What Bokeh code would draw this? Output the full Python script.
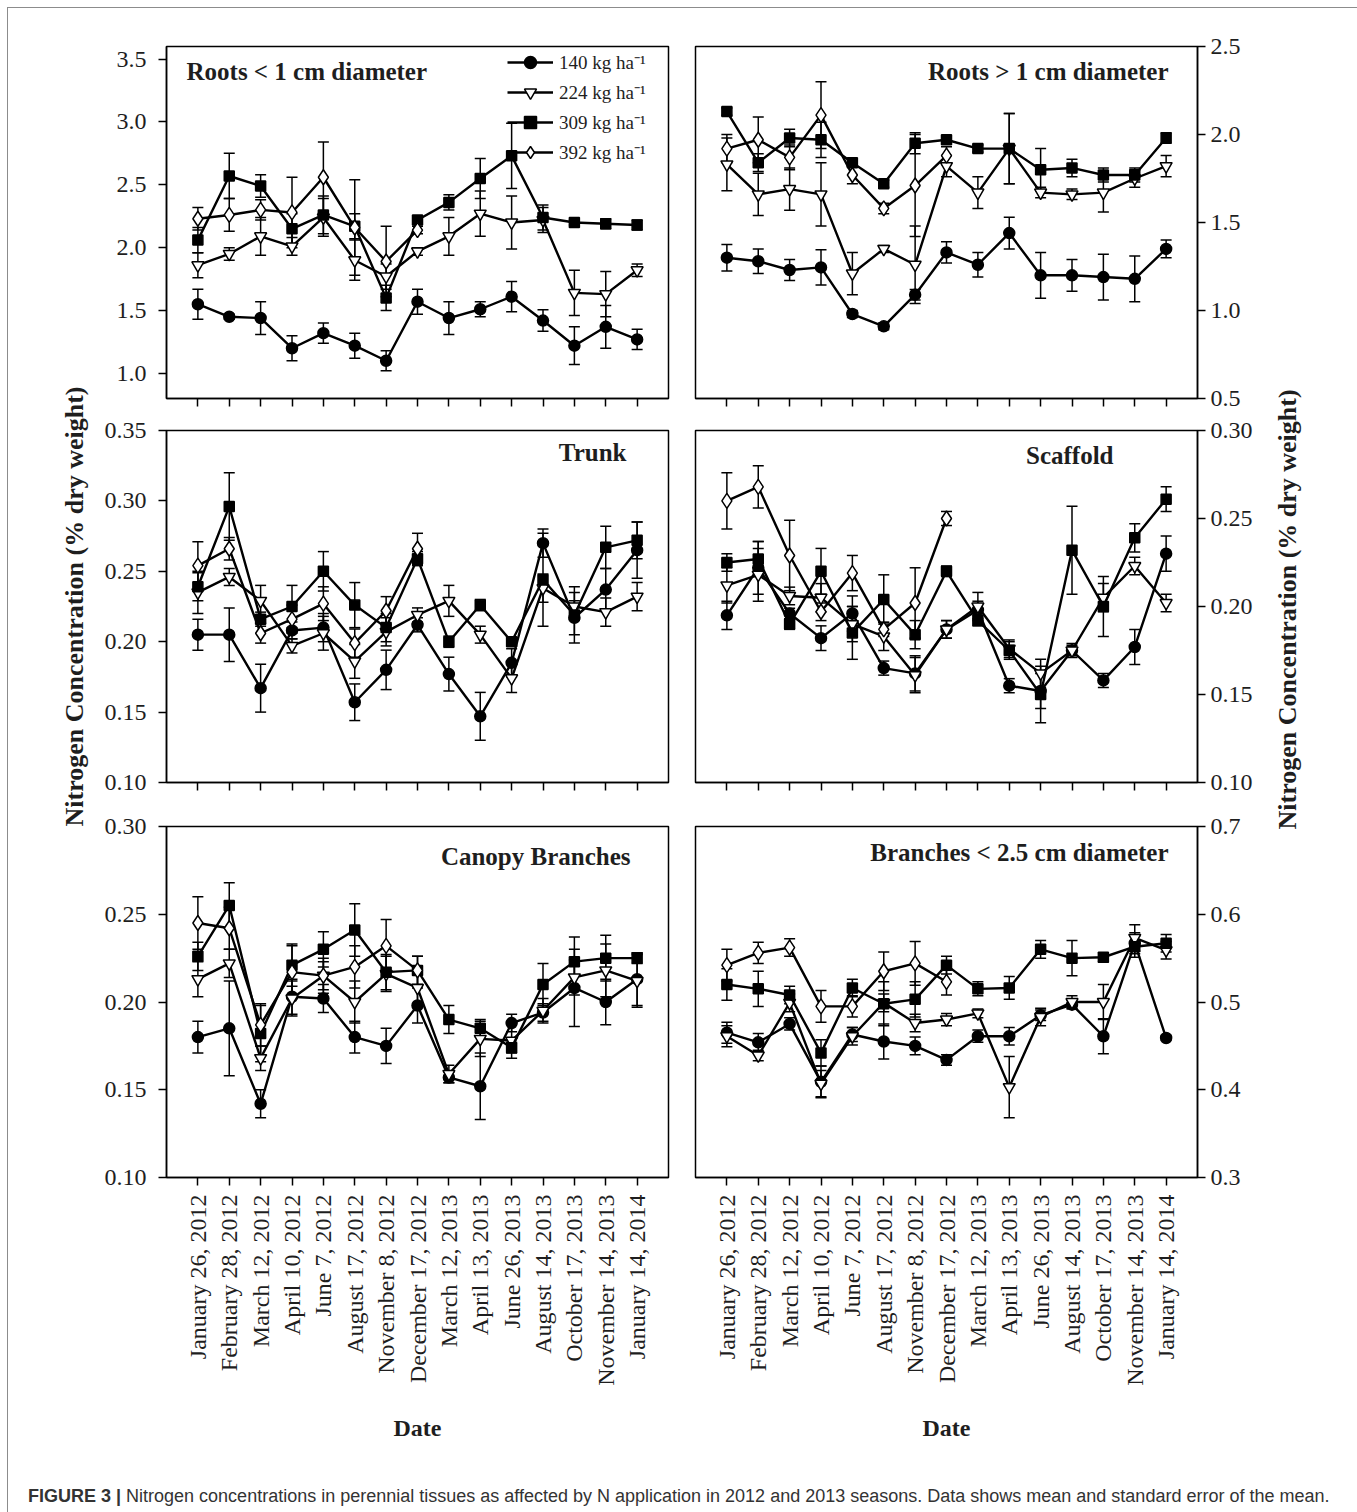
import math
from bokeh.plotting import figure
from bokeh.models import (Range1d, FixedTicker, PrintfTickFormatter, Whisker, TeeHead,
                          ColumnDataSource, Legend, LegendItem, Label, Div)
from bokeh.layouts import row, column
from bokeh.embed import file_html
from bokeh.resources import INLINE

# ---------------- data ----------------
DATES = ["January 26, 2012", "February 28, 2012", "March 12, 2012", "April 10, 2012",
         "June 7, 2012", "August 17, 2012", "November 8, 2012", "December 17, 2012",
         "March 12, 2013", "April 13, 2013", "June 26, 2013", "August 14, 2013",
         "October 17, 2013", "November 14, 2013", "January 14, 2014"]
RATES = ["140", "224", "309", "392"]

# Roots < 1 cm diameter
r1_140 = [1.55, 1.45, 1.44, 1.20, 1.32, 1.22, 1.10, 1.57, 1.44, 1.51, 1.61, 1.42, 1.22, 1.37, 1.27]
r1_140_se = [0.12, 0.02, 0.13, 0.10, 0.08, 0.10, 0.08, 0.10, 0.13, 0.06, 0.12, 0.085, 0.15, 0.17, 0.08]
r1_224 = [1.86, 1.95, 2.09, 2.01, 2.24, 1.90, 1.77, 1.97, 2.09, 2.27, 2.20, 2.22, 1.64, 1.63, 1.82]
r1_224_se = [0.10, 0.05, 0.15, 0.07, 0.15, 0.16, 0.10, 0.03, 0.15, 0.18, 0.21, 0.10, 0.18, 0.18, 0.05]
r1_309 = [2.06, 2.57, 2.49, 2.15, 2.26, 2.17, 1.60, 2.22, 2.36, 2.55, 2.73, 2.24, 2.20, 2.19, 2.18]
r1_309_se = [0.10, 0.18, 0.09, 0.12, 0.15, 0.10, 0.10, 0.03, 0.06, 0.16, 0.26, 0.10, 0.02, 0.04, 0.04]
r1_392 = [2.23, 2.26, 2.30, 2.28, 2.56, 2.16, 1.89, 2.14]
r1_392_se = [0.09, 0.13, 0.08, 0.28, 0.28, 0.38, 0.28, 0.03]

# Roots > 1 cm diameter
r2_140 = [1.30, 1.28, 1.23, 1.245, 0.98, 0.91, 1.09, 1.33, 1.26, 1.44, 1.20, 1.20, 1.19, 1.18, 1.35]
r2_140_se = [0.075, 0.07, 0.06, 0.10, 0.02, 0.02, 0.03, 0.06, 0.07, 0.09, 0.13, 0.09, 0.13, 0.13, 0.05]
r2_224 = [1.83, 1.66, 1.69, 1.66, 1.21, 1.35, 1.26, 1.82, 1.67, 1.92, 1.67, 1.66, 1.67, 1.75, 1.82]
r2_224_se = [0.15, 0.12, 0.12, 0.18, 0.12, 0.02, 0.22, 0.06, 0.09, 0.20, 0.03, 0.03, 0.11, 0.05, 0.06]
r2_309 = [2.13, 1.84, 1.98, 1.97, 1.84, 1.72, 1.95, 1.97, 1.92, 1.92, 1.80, 1.81, 1.77, 1.77, 1.98]
r2_309_se = [0.02, 0.05, 0.05, 0.10, 0.02, 0.02, 0.06, 0.02, 0.02, 0.20, 0.12, 0.05, 0.04, 0.04, 0.03]
r2_392 = [1.92, 1.97, 1.87, 2.11, 1.77, 1.58, 1.71, 1.88]
r2_392_se = [0.08, 0.13, 0.07, 0.19, 0.05, 0.03, 0.29, 0.05]

# Trunk
tr_140 = [0.205, 0.205, 0.167, 0.208, 0.210, 0.157, 0.180, 0.212, 0.177, 0.147, 0.185, 0.270, 0.217, 0.237, 0.265]
tr_140_se = [0.011, 0.019, 0.017, 0.006, 0.010, 0.013, 0.014, 0.005, 0.012, 0.017, 0.010, 0.010, 0.012, 0.015, 0.020]
tr_224 = [0.235, 0.246, 0.229, 0.197, 0.206, 0.186, 0.207, 0.219, 0.229, 0.205, 0.174, 0.238, 0.225, 0.221, 0.232]
tr_224_se = [0.015, 0.006, 0.011, 0.005, 0.012, 0.012, 0.010, 0.005, 0.011, 0.006, 0.010, 0.010, 0.010, 0.010, 0.010]
tr_309 = [0.239, 0.296, 0.216, 0.225, 0.250, 0.226, 0.210, 0.259, 0.200, 0.226, 0.200, 0.244, 0.219, 0.267, 0.272]
tr_309_se = [0.010, 0.024, 0.005, 0.015, 0.014, 0.016, 0.010, 0.005, 0.004, 0.004, 0.003, 0.033, 0.020, 0.015, 0.013]
tr_392 = [0.254, 0.266, 0.206, 0.216, 0.227, 0.199, 0.222, 0.266]
tr_392_se = [0.017, 0.008, 0.007, 0.010, 0.012, 0.010, 0.010, 0.011]

# Scaffold
sc_140 = [0.195, 0.222, 0.196, 0.182, 0.196, 0.165, 0.162, 0.187, 0.198, 0.155, 0.152, 0.175, 0.158, 0.177, 0.230]
sc_140_se = [0.008, 0.015, 0.003, 0.007, 0.010, 0.004, 0.010, 0.005, 0.005, 0.004, 0.010, 0.004, 0.004, 0.010, 0.010]
sc_224 = [0.212, 0.218, 0.206, 0.205, 0.190, 0.183, 0.161, 0.187, 0.200, 0.176, 0.162, 0.175, 0.205, 0.223, 0.202]
sc_224_se = [0.010, 0.015, 0.005, 0.008, 0.010, 0.008, 0.010, 0.005, 0.008, 0.005, 0.008, 0.003, 0.008, 0.005, 0.005]
sc_309 = [0.225, 0.227, 0.190, 0.220, 0.185, 0.204, 0.184, 0.220, 0.192, 0.175, 0.150, 0.232, 0.200, 0.239, 0.261]
sc_309_se = [0.005, 0.010, 0.003, 0.013, 0.015, 0.014, 0.008, 0.003, 0.003, 0.005, 0.016, 0.025, 0.017, 0.008, 0.007]
sc_392 = [0.260, 0.268, 0.229, 0.197, 0.219, 0.187, 0.202, 0.250]
sc_392_se = [0.016, 0.012, 0.020, 0.005, 0.010, 0.004, 0.020, 0.004]

# Canopy Branches
cb_140 = [0.180, 0.185, 0.142, 0.203, 0.202, 0.180, 0.175, 0.198, 0.157, 0.152, 0.188, 0.194, 0.208, 0.200, 0.213]
cb_140_se = [0.009, 0.027, 0.008, 0.010, 0.008, 0.009, 0.010, 0.010, 0.003, 0.019, 0.005, 0.005, 0.022, 0.013, 0.015]
cb_224 = [0.213, 0.222, 0.168, 0.202, 0.215, 0.200, 0.216, 0.208, 0.159, 0.179, 0.178, 0.195, 0.214, 0.218, 0.212]
cb_224_se = [0.010, 0.008, 0.007, 0.010, 0.008, 0.012, 0.010, 0.010, 0.005, 0.010, 0.010, 0.007, 0.010, 0.015, 0.015]
cb_309 = [0.226, 0.255, 0.182, 0.221, 0.230, 0.241, 0.217, 0.218, 0.190, 0.185, 0.174, 0.210, 0.223, 0.225, 0.225]
cb_309_se = [0.008, 0.013, 0.016, 0.012, 0.010, 0.015, 0.010, 0.008, 0.008, 0.005, 0.003, 0.012, 0.014, 0.013, 0.003]
cb_392 = [0.245, 0.242, 0.187, 0.217, 0.215, 0.220, 0.232, 0.218]
cb_392_se = [0.015, 0.012, 0.012, 0.015, 0.010, 0.012, 0.015, 0.008]

# Branches < 2.5 cm diameter
br_140 = [0.465, 0.454, 0.475, 0.409, 0.463, 0.455, 0.450, 0.434, 0.461, 0.461, 0.485, 0.497, 0.461, 0.567, 0.459]
br_140_se = [0.012, 0.010, 0.007, 0.018, 0.008, 0.020, 0.010, 0.006, 0.007, 0.010, 0.006, 0.005, 0.020, 0.012, 0.003]
br_224 = [0.461, 0.439, 0.499, 0.407, 0.461, 0.499, 0.476, 0.480, 0.487, 0.403, 0.483, 0.500, 0.500, 0.573, 0.559]
br_224_se = [0.012, 0.006, 0.010, 0.015, 0.010, 0.010, 0.010, 0.007, 0.005, 0.035, 0.010, 0.007, 0.020, 0.015, 0.010]
br_309 = [0.520, 0.515, 0.508, 0.442, 0.516, 0.498, 0.503, 0.542, 0.515, 0.516, 0.560, 0.550, 0.551, 0.563, 0.567]
br_309_se = [0.018, 0.020, 0.010, 0.015, 0.010, 0.025, 0.020, 0.010, 0.008, 0.013, 0.010, 0.020, 0.005, 0.012, 0.010]
br_392 = [0.542, 0.556, 0.562, 0.495, 0.495, 0.535, 0.544, 0.523]
br_392_se = [0.018, 0.012, 0.010, 0.018, 0.012, 0.022, 0.025, 0.015]

# y-axis ticks per panel
r1_ticks = [1.0, 1.5, 2.0, 2.5, 3.0, 3.5]
r2_ticks = [0.5, 1.0, 1.5, 2.0, 2.5]
tr_ticks = [0.10, 0.15, 0.20, 0.25, 0.30, 0.35]
sc_ticks = [0.10, 0.15, 0.20, 0.25, 0.30]
cb_ticks = [0.10, 0.15, 0.20, 0.25, 0.30]
br_ticks = [0.3, 0.4, 0.5, 0.6, 0.7]

# ---------------- styling ----------------
SERIF = "Liberation Serif"
TXT = "#1e1e1e"
FW = 502
STYLE = {
    "140": dict(marker="circle", fill="black", size=11),
    "224": dict(marker="inverted_triangle", fill="white", size=12),
    "309": dict(marker="square", fill="black", size=10),
    "392": dict(marker="diamond", fill="white", size=15),
}
XS = list(range(1, len(DATES) + 1))


def draw_series(p, ys, ses, key):
    st = STYLE[key]
    xs = XS[:len(ys)]
    src = ColumnDataSource(dict(x=xs, y=ys,
                                lo=[a - b for a, b in zip(ys, ses)],
                                hi=[a + b for a, b in zip(ys, ses)]))
    w = Whisker(source=src, base="x", upper="hi", lower="lo", line_color="black", line_width=1.5,
                upper_head=TeeHead(size=11, line_width=1.5, line_color="black"),
                lower_head=TeeHead(size=11, line_width=1.5, line_color="black"))
    p.add_layout(w)
    lr = p.line("x", "y", source=src, line_color="black", line_width=2.4)
    sr = p.scatter("x", "y", source=src, marker=st["marker"], size=st["size"],
                   fill_color=st["fill"], line_color="black", line_width=1.5)
    return lr, sr


def make_panel(ylo, yhi, ticks, fmt, side, fh, borders, bottom_labels, title, talign, tdx, tdy, series):
    bl, br, bt, bb = borders
    p = figure(frame_width=FW, frame_height=fh, x_range=Range1d(0, len(DATES) + 1),
               y_range=Range1d(ylo, yhi), y_axis_location=side,
               min_border_left=bl, min_border_right=br, min_border_top=bt, min_border_bottom=bb,
               output_backend="svg", toolbar_location=None)
    p.grid.visible = False
    p.outline_line_color = "black"
    p.outline_line_width = 1.5
    p.background_fill_color = "white"
    p.border_fill_color = "white"
    for ax in p.axis:
        ax.axis_line_color = "black"
        ax.axis_line_width = 1.5
        ax.major_tick_line_color = "black"
        ax.major_tick_line_width = 1.5
        ax.major_tick_in = 0
        ax.minor_tick_line_color = None
        ax.major_label_text_font = SERIF
        ax.major_label_text_color = TXT
    ya = p.yaxis[0]
    ya.ticker = FixedTicker(ticks=ticks)
    ya.formatter = PrintfTickFormatter(format=fmt)
    ya.major_tick_out = 8
    ya.major_label_text_font_size = "24px"
    ya.major_label_standoff = 12 if side == "left" else 5
    xa = p.xaxis[0]
    xa.ticker = FixedTicker(ticks=XS)
    xa.major_tick_out = 8
    if bottom_labels:
        xa.major_label_overrides = {x: d for x, d in zip(XS, DATES)}
        xa.major_label_orientation = math.pi / 2
        xa.major_label_text_font_size = "24px"
        xa.major_label_standoff = 9
        xa.axis_label = "Date"
        xa.axis_label_text_font = SERIF
        xa.axis_label_text_font_style = "bold"
        xa.axis_label_text_font_size = "24px"
        xa.axis_label_text_color = TXT
        xa.axis_label_standoff = 26
    else:
        # ticks only: the tick labels are not painted
        xa.major_label_text_color = None
        xa.major_label_text_font_size = "2px"
        xa.major_label_standoff = 0
    # panel title
    x0, x1 = p.x_range.start, p.x_range.end
    if talign == "left":
        tx = x0 + tdx / FW * (x1 - x0)
    else:
        tx = x1 - tdx / FW * (x1 - x0)
    ty = yhi - tdy / fh * (yhi - ylo)
    p.add_layout(Label(x=tx, y=ty, text=title, text_align=talign, text_baseline="middle",
                       text_font=SERIF, text_font_style="bold", text_font_size="25px",
                       text_color=TXT))
    rends = {}
    for key, (ys, ses) in zip(RATES, series):
        rends[key] = draw_series(p, ys, ses, key)
    return p, rends


L_B = (76, 13)
R_B = (14, 64)
ROW1 = (38, 16)
ROW2 = (16, 18)
ROW3 = (26, 272)

p11, rends = make_panel(0.8, 3.6, r1_ticks, "%.1f", "left", 352, L_B + ROW1, False,
                        "Roots < 1 cm diameter", "left", 20, 25,
                        [(r1_140, r1_140_se), (r1_224, r1_224_se), (r1_309, r1_309_se), (r1_392, r1_392_se)])
p12, _ = make_panel(0.5, 2.5, r2_ticks, "%.1f", "right", 352, R_B + ROW1, False,
                    "Roots > 1 cm diameter", "right", 29, 25,
                    [(r2_140, r2_140_se), (r2_224, r2_224_se), (r2_309, r2_309_se), (r2_392, r2_392_se)])
p21, _ = make_panel(0.10, 0.35, tr_ticks, "%.2f", "left", 352, L_B + ROW2, False,
                    "Trunk", "right", 42, 22,
                    [(tr_140, tr_140_se), (tr_224, tr_224_se), (tr_309, tr_309_se), (tr_392, tr_392_se)])
p22, _ = make_panel(0.10, 0.30, sc_ticks, "%.2f", "right", 352, R_B + ROW2, False,
                    "Scaffold", "right", 84, 25,
                    [(sc_140, sc_140_se), (sc_224, sc_224_se), (sc_309, sc_309_se), (sc_392, sc_392_se)])
p31, _ = make_panel(0.10, 0.30, cb_ticks, "%.2f", "left", 351, L_B + ROW3, True,
                    "Canopy Branches", "right", 38, 30,
                    [(cb_140, cb_140_se), (cb_224, cb_224_se), (cb_309, cb_309_se), (cb_392, cb_392_se)])
p32, _ = make_panel(0.3, 0.7, br_ticks, "%.1f", "right", 351, R_B + ROW3, True,
                    "Branches < 2.5 cm diameter", "right", 29, 26,
                    [(br_140, br_140_se), (br_224, br_224_se), (br_309, br_309_se), (br_392, br_392_se)])

# legend in first panel
items = [LegendItem(label=f"{k} kg ha\u207b\u00b9", renderers=list(rends[k])) for k in RATES]
legend = Legend(items=items, location=(341, 231), orientation="vertical",
                glyph_width=46, glyph_height=30, spacing=0, padding=0, margin=0,
                label_standoff=6, label_text_font=SERIF, label_text_font_size="19px",
                label_text_color=TXT, background_fill_alpha=0, border_line_color=None)
p11.add_layout(legend)

TOTAL_H = (ROW1[0] + 352 + ROW1[1]) + (ROW2[0] + 352 + ROW2[1]) + (ROW3[0] + 351 + ROW3[1])


def side_label(width, fx, fy):
    f = figure(width=width, height=TOTAL_H, x_range=Range1d(0, 1), y_range=Range1d(0, 1),
               min_border=0, output_backend="svg", toolbar_location=None)
    f.axis.visible = False
    f.grid.visible = False
    f.outline_line_color = None
    f.add_layout(Label(x=fx, y=fy, text="Nitrogen Concentration (% dry weight)", angle=math.pi / 2,
                       text_align="center", text_baseline="middle", text_font=SERIF,
                       text_font_style="bold", text_font_size="26px", text_color=TXT))
    return f


lab_left = side_label(82, 0.80, 0.585)
lab_right = side_label(88, 0.30, 0.583)

grid = column(row(p11, p12), row(p21, p22), row(p31, p32))
body = row(lab_left, grid, lab_right)

caption = Div(
    text=('<div style="font-family: \'Liberation Sans\', Arial, sans-serif; font-size: 18px; '
          'color: #333; padding-left: 15px; padding-top: 30px; white-space: nowrap;">'
          '<b>FIGURE 3 |</b> Nitrogen concentrations in perennial tissues as affected by N application '
          'in 2012 and 2013 seasons. Data shows mean and standard error of the mean.</div>'),
    width=1341, height=58)

root = column(body, caption, styles={"border": "1px solid #8c8c8c", "margin-left": "7px",
                                     "margin-top": "7px"})

open("out.html", "w").write(file_html(root, INLINE, "Figure 3"))
